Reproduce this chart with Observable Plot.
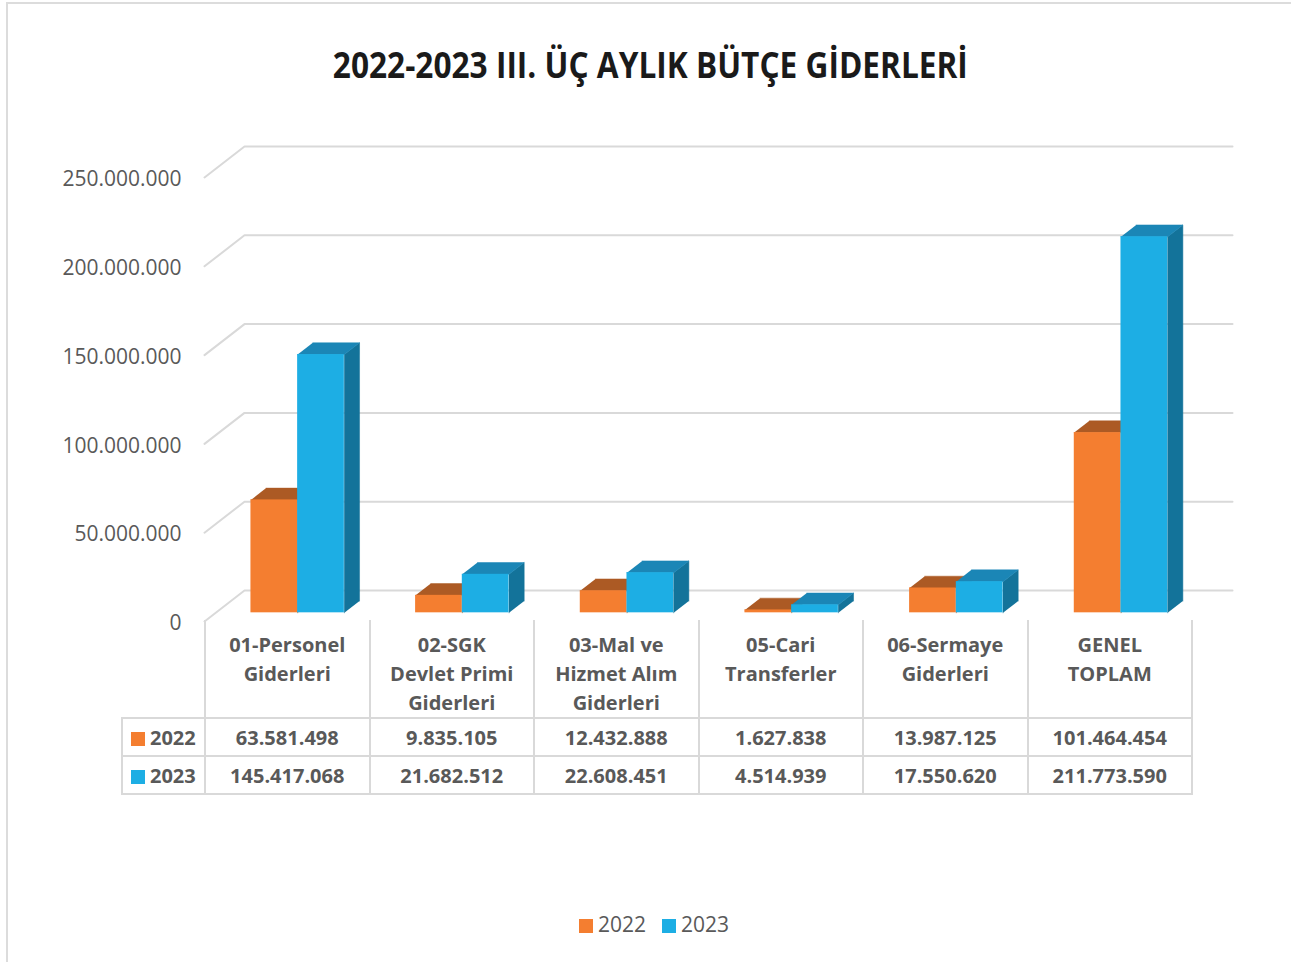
<!DOCTYPE html>
<html><head><meta charset="utf-8">
<script src="https://cdn.jsdelivr.net/npm/d3@7"></script>
<script src="https://cdn.jsdelivr.net/npm/@observablehq/plot@0.6"></script>
<style>
body{margin:0;background:#fff;font-family:"Open Sans",sans-serif;}
#page{position:relative;width:1291px;height:962px;overflow:hidden;background:#fff;}
#frame{position:absolute;left:6px;top:2px;width:1400px;height:1100px;border-left:2px solid #dcdcdc;border-top:2px solid #dcdcdc;}
#title{position:absolute;left:5px;width:1291px;top:45px;line-height:40px;text-align:center;}
#title span{display:inline-block;font-weight:700;font-size:35px;color:#1a1a1a;white-space:nowrap;transform-origin:center;}
#chart{position:absolute;left:0;top:100px;}
#tbl{position:absolute;left:121px;top:620px;border-collapse:collapse;table-layout:fixed;width:1072px;font-size:20px;font-weight:700;color:#595959;}
#tbl td{border:2px solid #d9d9d9;text-align:center;padding:0;}
#tbl tr.hd td{border-top:none;vertical-align:top;height:85px;padding-top:10px;line-height:29px;white-space:pre-line;}
#tbl tr.dr td{height:36px;}
#tbl td.lg{text-align:left;padding-left:8px;}
.sw{display:inline-block;width:14px;height:14px;margin-right:5px;vertical-align:-1px;}
#legend{position:absolute;top:910px;left:0;width:1291px;text-align:center;font-size:21px;color:#595959;padding-left:17px;box-sizing:border-box;}
#legend span.item{margin:0 8px;}
</style></head>
<body><div id="page"><div id="frame"></div><div id="title"><span id="ttext"></span></div><div id="chart"></div><table id="tbl"></table><div id="legend"></div></div>
<script>
const titleText = "2022-2023 III. ÜÇ AYLIK BÜTÇE GİDERLERİ";
const categories = ["01-Personel\nGiderleri", "02-SGK\nDevlet Primi\nGiderleri", "03-Mal ve\nHizmet Alım\nGiderleri", "05-Cari\nTransferler", "06-Sermaye\nGiderleri", "GENEL\nTOPLAM"];
const series = ["2022", "2023"];
const values2022 = [63581498, 9835105, 12432888, 1627838, 13987125, 101464454];
const values2023 = [145417068, 21682512, 22608451, 4514939, 17550620, 211773590];
const yTicks = [0, 50000000, 100000000, 150000000, 200000000, 250000000];

const colors = {
  "2022": {front: "#F47E30", top: "#AC5A24", side: "#B85F24"},
  "2023": {front: "#1DAEE4", top: "#1B86B6", side: "#13739A"}
};

const fmt = d3.formatLocale({decimal: ",", thousands: ".", grouping: [3], currency: ["", ""]}).format(",d");

// title
const tt = document.getElementById("ttext");
tt.textContent = titleText;
const tw = tt.getBoundingClientRect().width;
tt.style.transform = `scaleX(${635 / tw})`;

// geometry (layout constants)
const W = 1291, H = 530, mL = 204, mR = 99, mT = 77, mB = 9;
const yMax = 250000000;
const slotPx = (W - mL - mR) / categories.length;
const pxPerVal = (H - mT - mB) / yMax;
const DX = 40 / slotPx;          // depth in x units
const DY = 31 / pxPerVal;        // depth in y units
const OFF = 0.214, BW = 0.2836, A = 0.28, D = 0.38;

const valuesBySeries = {"2022": values2022, "2023": values2023};

function barGeom(s, si) {
  const front = [], tops = [], sides = [];
  valuesBySeries[s].forEach((v, i) => {
    const x0 = i + OFF + si * BW + A * DX, x1 = x0 + BW;
    const yb = A * DY, yt = v + A * DY;
    front.push({x1: x0, x2: x1, y1: yb, y2: yt});
    const id = s + "-" + i;
    [[x0, yt], [x1, yt], [x1 + D * DX, yt + D * DY], [x0 + D * DX, yt + D * DY]].forEach(([x, y]) => tops.push({id, x, y}));
    [[x1, yb], [x1, yt], [x1 + D * DX, yt + D * DY], [x1 + D * DX, yb + D * DY]].forEach(([x, y]) => sides.push({id, x, y}));
  });
  return {front, tops, sides};
}

const grid = yTicks.flatMap(v => [{k: v, x: 0, y: v}, {k: v, x: DX, y: v + DY}, {k: v, x: categories.length + DX, y: v + DY}]);

const marks = [
  Plot.line(grid, {x: "x", y: "y", z: "k", stroke: "#d9d9d9", strokeWidth: 2}),
  Plot.axisY({ticks: yTicks, tickFormat: fmt, tickSize: 0, tickPadding: 23, fill: "#595959", dy: 2})
];
series.forEach((s, si) => {
  const g = barGeom(s, si);
  marks.push(Plot.line(g.sides, {x: "x", y: "y", z: "id", fill: colors[s].side, stroke: colors[s].side, strokeWidth: 0.5}));
  marks.push(Plot.line(g.tops, {x: "x", y: "y", z: "id", fill: colors[s].top, stroke: colors[s].top, strokeWidth: 0.5}));
  marks.push(Plot.rect(g.front, {x1: "x1", x2: "x2", y1: "y1", y2: "y2", fill: colors[s].front}));
});

const chart = Plot.plot({
  width: W, height: H,
  marginLeft: mL, marginRight: mR, marginTop: mT, marginBottom: mB,
  x: {domain: [0, categories.length], axis: null},
  y: {domain: [0, yMax], axis: null},
  style: {fontFamily: "Open Sans", fontSize: "21px", color: "#595959", background: "transparent", overflow: "visible"},
  marks
});
document.getElementById("chart").appendChild(chart);

// data table
const tbl = document.getElementById("tbl");
const cg = document.createElement("colgroup");
cg.innerHTML = `<col style="width:83px">` + categories.map(() => `<col>`).join("");
tbl.appendChild(cg);
const hr = document.createElement("tr"); hr.className = "hd";
hr.innerHTML = `<td style="border:none;border-right:2px solid #d9d9d9;border-bottom:2px solid #d9d9d9"></td>` + categories.map(c => `<td>${c}</td>`).join("");
tbl.appendChild(hr);
series.forEach(s => {
  const tr = document.createElement("tr"); tr.className = "dr";
  tr.innerHTML = `<td class="lg"><span class="sw" style="background:${colors[s].front}"></span>${s}</td>` + valuesBySeries[s].map(v => `<td>${fmt(v)}</td>`).join("");
  tbl.appendChild(tr);
});

// legend
document.getElementById("legend").innerHTML = series.map(s => `<span class="item"><span class="sw" style="background:${colors[s].front}"></span>${s}</span>`).join("");
</script>
</body></html>
